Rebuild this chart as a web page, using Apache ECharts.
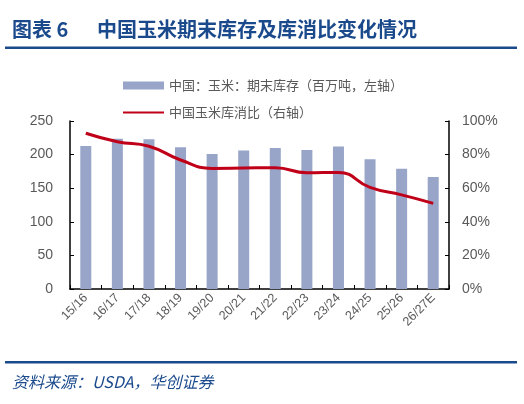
<!DOCTYPE html>
<html>
<head>
<meta charset="utf-8">
<script src="https://cdn.jsdelivr.net/npm/echarts@6/dist/echarts.min.js"></script>
<style>
  html, body { margin: 0; padding: 0; background: #fff; }
  #chart { width: 524px; height: 404px; }
</style>
</head>
<body>
<div id="chart"></div>
<script>
// 年度
var years = ['15/16', '16/17', '17/18', '18/19', '19/20', '20/21', '21/22', '22/23', '23/24', '24/25', '25/26', '26/27E'];
// 中国玉米期末库存（百万吨）
var stocks = [212.8, 223.5, 223, 210.8, 201, 206, 209.8, 206.8, 212, 193, 179, 166.5];
// 库消比（%）
var ratio = [92.7, 87.7, 85, 76.8, 71.8, 72, 72.2, 69.2, 69.4, 60.5, 56, 51];

var blue = '#1b4a8c';
var grayText = '#595959';
var font = '"Noto Sans CJK SC", sans-serif';
var numFont = '"Liberation Sans", Arial, sans-serif';

var myChart = echarts.init(document.getElementById('chart'));
var option = {
  animation: false,
  textStyle: { fontFamily: font },
  title: [{
    text: '图表 6',
    left: 7, top: 14,
    textStyle: { color: blue, fontSize: 20, fontWeight: 'bold', fontFamily: font }
  }, {
    text: '中国玉米期末库存及库消比变化情况',
    left: 92, top: 14,
    textStyle: { color: blue, fontSize: 20, fontWeight: 'bold', fontFamily: font }
  }, {
    text: '资料来源：USDA，华创证券',
    left: 7, top: 369,
    textStyle: { color: blue, fontSize: 16, fontWeight: 'normal', fontStyle: 'italic', fontFamily: font }
  }],
  graphic: [
    { type: 'rect', shape: { x: 5, y: 46.5, width: 512, height: 2.5 }, style: { fill: blue } },
    { type: 'rect', shape: { x: 5, y: 361, width: 512, height: 2.5 }, style: { fill: blue } }
  ],
  legend: {
    left: 117, top: 74,
    orient: 'vertical',
    itemWidth: 41, itemHeight: 8, itemGap: 14,
    textStyle: { color: grayText, fontSize: 13 },
    data: [
      { name: '中国：玉米：期末库存（百万吨，左轴）', icon: 'rect' },
      { name: '中国玉米库消比（右轴）', itemStyle: { opacity: 0 } }
    ]
  },
  grid: { left: 70, right: 75, top: 121, bottom: 115 },
  xAxis: {
    type: 'category',
    data: years,
    axisLine: { lineStyle: { color: '#000', width: 1.5 } },
    axisTick: { show: true, inside: true, length: 4, lineStyle: { color: '#000' } },
    axisLabel: { color: grayText, fontSize: 12.5, fontFamily: numFont, rotate: 45, margin: 7, interval: 0 }
  },
  yAxis: [{
    type: 'value',
    min: 0, max: 250, interval: 50,
    axisLine: { show: true, lineStyle: { color: '#000', width: 1.5 } },
    axisTick: { show: true, inside: true, length: 4, lineStyle: { color: '#000' } },
    axisLabel: { color: grayText, fontSize: 14, fontFamily: numFont, margin: 17 },
    splitLine: { show: false }
  }, {
    type: 'value',
    min: 0, max: 100, interval: 20,
    position: 'right',
    axisLine: { show: true, lineStyle: { color: '#000', width: 1.5 } },
    axisTick: { show: true, inside: true, length: 4, lineStyle: { color: '#000' } },
    axisLabel: { color: grayText, fontSize: 14, fontFamily: numFont, margin: 13, formatter: '{value}%' },
    splitLine: { show: false }
  }],
  series: [{
    name: '中国：玉米：期末库存（百万吨，左轴）',
    type: 'bar',
    data: stocks,
    barWidth: 11,
    itemStyle: { color: '#98a5c8' }
  }, {
    name: '中国玉米库消比（右轴）',
    type: 'line',
    yAxisIndex: 1,
    data: ratio,
    smooth: true,
    symbol: 'none',
    lineStyle: { color: '#c00018', width: 3 },
    itemStyle: { color: '#c00018' }
  }]
};
myChart.setOption(option);
</script>
</body>
</html>
